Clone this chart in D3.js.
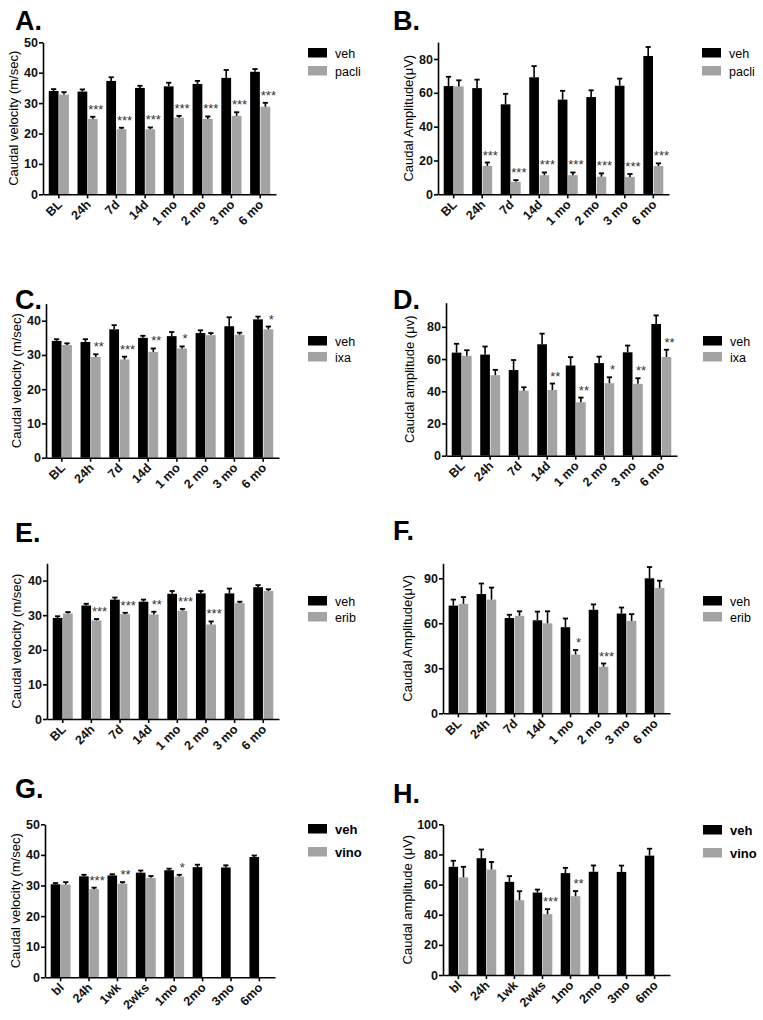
<!DOCTYPE html>
<html><head><meta charset="utf-8">
<script src="https://cdn.jsdelivr.net/npm/d3@7"></script>
<style>body{margin:0;background:#fff} svg{display:block}</style>
</head><body>
<svg id="chart" width="763" height="1020"></svg>
<script>
// ---------- DATA ----------
const groupsMain = ["BL","24h","7d","14d","1 mo","2 mo","3 mo","6 mo"];
const groupsVino = ["bl","24h","1wk","2wks","1mo","2mo","3mo","6mo"];

const ticksVel50 = [0,10,20,30,40,50];
const ticksVel40 = [0,10,20,30,40];
const ticksAmp80 = [0,20,40,60,80];
const ticksAmp90 = [0,30,60,90];
const ticksAmp100 = [0,20,40,60,80,100];

// A: velocity, paclitaxel
const vehVelA = [34.0,33.8,37.3,35.0,35.5,36.3,38.3,40.3];
const vehVelAErr = [0.6,0.7,1.2,0.7,1.2,1.0,2.6,0.9];
const pacliVel = [32.8,24.8,21.4,21.4,25.2,24.8,25.8,28.8];
const pacliVelErr = [0.8,0.7,0.5,0.6,0.6,0.8,1.2,1.3];
const pacliVelSig = ["","***","***","***","***","***","***","***"];

// B: amplitude, paclitaxel
const vehAmpB = [64.0,62.8,53.2,69.2,56.0,57.5,64.2,81.8];
const vehAmpBErr = [5.5,5.0,6.2,6.6,5.2,4.0,4.2,5.3];
const pacliAmp = [63.8,16.8,7.4,11.3,11.3,10.4,10.3,16.7];
const pacliAmpErr = [3.6,2.0,1.0,1.6,1.6,2.0,1.7,1.6];
const pacliAmpSig = ["","***","***","***","***","***","***","***"];

// C: velocity, ixabepilone
const vehVelC = [34.1,33.8,37.5,35.0,35.5,36.4,38.4,40.4];
const vehVelCErr = [0.5,0.8,1.2,0.6,1.2,0.8,2.6,0.8];
const ixaVel = [32.9,29.4,28.7,30.9,31.9,35.8,35.9,37.5];
const ixaVelErr = [0.5,0.8,0.8,1.0,0.6,0.6,0.6,0.8];
const ixaVelSig = ["","**","***","**","*","","","*"];

// D: amplitude, ixabepilone
const vehAmpD = [64.0,62.8,53.2,69.2,56.0,57.5,64.2,81.8];
const vehAmpDErr = [5.5,5.0,6.2,6.6,5.2,4.0,4.2,5.3];
const ixaAmp = [62.0,50.0,40.4,40.8,33.2,45.0,44.6,61.3];
const ixaAmpErr = [3.5,3.3,2.1,4.0,2.9,3.7,3.5,4.5];
const ixaAmpSig = ["","","","**","**","*","**","**"];

// E: velocity, eribulin
const vehVelE = [29.2,32.8,34.5,33.9,36.2,36.3,36.3,38.1];
const vehVelEErr = [0.5,0.5,0.6,0.6,0.8,0.7,1.4,0.6];
const eribVel = [30.5,28.5,30.3,30.2,31.3,27.3,33.5,37.0];
const eribVelErr = [0.4,0.4,0.4,0.8,0.5,0.9,0.4,0.5];
const eribVelSig = ["","***","***","**","***","***","",""];

// F: amplitude, eribulin
const vehAmpF = [71.8,79.5,63.5,62.0,57.4,69.0,66.5,90.0];
const vehAmpFErr = [4.0,7.0,2.2,5.8,5.8,3.6,4.0,7.5];
const eribAmp = [73.0,75.8,65.0,60.0,39.2,31.0,61.6,83.6];
const eribAmpErr = [4.5,8.0,3.0,8.0,3.0,2.2,4.5,4.8];
const eribAmpSig = ["","","","","*","***","",""];

// G: velocity, vincristine
const vehVelG = [30.4,33.0,33.3,34.2,35.0,36.0,35.9,39.3];
const vehVelGErr = [0.4,0.5,0.4,0.7,0.5,0.8,0.7,0.5];
const vinoVel = [30.3,28.8,30.6,32.5,32.9,null,null,null];
const vinoVelErr = [0.8,0.5,0.5,0.6,0.6,null,null,null];
const vinoVelSig = ["","***","**","","*","","",""];

// H: amplitude, vincristine
const vehAmpH = [71.8,77.5,61.8,54.7,67.6,68.5,68.4,79.2];
const vehAmpHErr = [4.0,5.8,3.8,2.0,3.5,4.2,4.2,4.6];
const vinoAmp = [64.8,70.0,49.6,40.4,52.3,null,null,null];
const vinoAmpErr = [7.0,5.0,6.0,3.3,3.4,null,null,null];
const vinoAmpSig = ["","","","***","**","","",""];

// ---------- DRAWING ----------
const FONT = "'Liberation Sans', Arial, Helvetica, sans-serif";
const BLACK = "#000000";
const GRAY = "#a3a3a6";
const svg = d3.select("#chart").style("font-family", FONT);

const panels = [
  {letter:"A.", lx:15, ly:30, cats:groupsMain, veh:vehVelA, vehErr:vehVelAErr, drug:pacliVel, drugErr:pacliVelErr, sig:pacliVelSig,
   drugName:"pacli", ytitle:"Caudal velocity (m/sec)", ticks:ticksVel50, max:50,
   x0:43, x1:276, y0:194.3, y1:42.3, tx:18, legX:308, legY:48, legGap:18, boldLeg:false},
  {letter:"B.", lx:393, ly:30, cats:groupsMain, veh:vehAmpB, vehErr:vehAmpBErr, drug:pacliAmp, drugErr:pacliAmpErr, sig:pacliAmpSig,
   drugName:"pacli", ytitle:"Caudal Amplitude(\u03BCV)", ticks:ticksAmp80, max:90,
   x0:438, x1:669, y0:194.3, y1:42.1, tx:413, legX:702, legY:48, legGap:18, boldLeg:false},
  {letter:"C.", lx:15, ly:309, cats:groupsMain, veh:vehVelC, vehErr:vehVelCErr, drug:ixaVel, drugErr:ixaVelErr, sig:ixaVelSig,
   drugName:"ixa", ytitle:"Caudal velocity (m/sec)", ticks:ticksVel40, max:45,
   x0:46, x1:279, y0:457.7, y1:303.6, tx:21, legX:308, legY:336, legGap:16, boldLeg:false},
  {letter:"D.", lx:393, ly:309, cats:groupsMain, veh:vehAmpD, vehErr:vehAmpDErr, drug:ixaAmp, drugErr:ixaAmpErr, sig:ixaAmpSig,
   drugName:"ixa", ytitle:"Caudal amplitude (\u03BCv)", ticks:ticksAmp80, max:95,
   x0:446, x1:677, y0:455.7, y1:302.7, tx:414, legX:703, legY:336, legGap:16, boldLeg:false},
  {letter:"E.", lx:15, ly:542, cats:groupsMain, veh:vehVelE, vehErr:vehVelEErr, drug:eribVel, drugErr:eribVelErr, sig:eribVelSig,
   drugName:"erib", ytitle:"Caudal velocity (m/sec)", ticks:ticksVel40, max:45,
   x0:47, x1:279, y0:719, y1:563.3, tx:21, legX:308, legY:596, legGap:16, boldLeg:false},
  {letter:"F.", lx:393, ly:540, cats:groupsMain, veh:vehAmpF, vehErr:vehAmpFErr, drug:eribAmp, drugErr:eribAmpErr, sig:eribAmpSig,
   drugName:"erib", ytitle:"Caudal Amplitude(\u03BCV)", ticks:ticksAmp90, max:100,
   x0:443, x1:670, y0:713.3, y1:563.3, tx:412, legX:703, legY:596, legGap:16, boldLeg:false},
  {letter:"G.", lx:15, ly:798, cats:groupsVino, veh:vehVelG, vehErr:vehVelGErr, drug:vinoVel, drugErr:vinoVelErr, sig:vinoVelSig,
   drugName:"vino", ytitle:"Caudal velocity (m/sec)", ticks:ticksVel50, max:50,
   x0:45, x1:275, y0:977.3, y1:824.3, tx:20, legX:308, legY:824, legGap:23, boldLeg:true},
  {letter:"H.", lx:393, ly:803, cats:groupsVino, veh:vehAmpH, vehErr:vehAmpHErr, drug:vinoAmp, drugErr:vinoAmpErr, sig:vinoAmpSig,
   drugName:"vino", ytitle:"Caudal amplitude (\u03BCV)", ticks:ticksAmp100, max:100,
   x0:443, x1:670, y0:975, y1:824.3, tx:412, legX:703, legY:825, legGap:23, boldLeg:true}
];

panels.forEach(p => {
  const g = svg.append("g");
  const x = d3.scaleBand().domain(p.cats).range([p.x0, p.x1]).paddingInner(0.3).paddingOuter(0.2);
  const xs = d3.scaleBand().domain([0,1]).range([0, x.bandwidth()]).paddingInner(0.06);
  const y = d3.scaleLinear().domain([0, p.max]).range([p.y0, p.y1]);

  // panel letter
  g.append("text").attr("x", p.lx).attr("y", p.ly).text(p.letter)
    .attr("font-size", 27).attr("font-weight", "bold").attr("fill", "#000");

  const series = [
    {vals:p.veh, errs:p.vehErr, color:BLACK, sig:null},
    {vals:p.drug, errs:p.drugErr, color:GRAY, sig:p.sig}
  ];
  series.forEach((s, si) => {
    const rows = p.cats.map((c,i) => ({c, v:s.vals[i], e:s.errs[i], sig: s.sig ? s.sig[i] : ""}))
      .filter(d => d.v != null);
    // bars
    g.selectAll(null).data(rows).join("rect")
      .attr("x", d => x(d.c) + xs(si))
      .attr("y", d => y(d.v))
      .attr("width", xs.bandwidth())
      .attr("height", d => y(0) - y(d.v))
      .attr("fill", s.color);
    // error bars (upper only)
    const cx = d => x(d.c) + xs(si) + xs.bandwidth()/2;
    g.selectAll(null).data(rows).join("line")
      .attr("x1", cx).attr("x2", cx)
      .attr("y1", d => y(d.v)).attr("y2", d => y(d.v + d.e))
      .attr("stroke", "#000").attr("stroke-width", 1.6);
    g.selectAll(null).data(rows).join("line")
      .attr("x1", d => cx(d) - 2.6).attr("x2", d => cx(d) + 2.6)
      .attr("y1", d => y(d.v + d.e)).attr("y2", d => y(d.v + d.e))
      .attr("stroke", "#000").attr("stroke-width", 1.8);
    // significance stars
    g.selectAll(null).data(rows.filter(d => d.sig)).join("text")
      .attr("x", d => cx(d) + 3)
      .attr("y", d => y(d.v + d.e) - 3)
      .attr("text-anchor", "middle")
      .attr("font-size", 13)
      .attr("fill", "#333")
      .text(d => d.sig);
  });

  // y axis
  const ya = g.append("g").attr("transform", `translate(${p.x0},0)`)
    .call(d3.axisLeft(y).tickValues(p.ticks).tickSize(4).tickSizeOuter(0).tickPadding(1));
  ya.select(".domain").attr("stroke", "#000").attr("stroke-width", 1.6);
  ya.selectAll(".tick line").attr("stroke", "#000").attr("stroke-width", 1.6);
  ya.selectAll(".tick text").attr("font-family", FONT).attr("font-size", 12.5)
    .attr("font-weight", "bold").attr("fill", "#111");

  // x axis
  const xa = g.append("g").attr("transform", `translate(0,${p.y0})`)
    .call(d3.axisBottom(x).tickSize(4).tickSizeOuter(0).tickFormat(""));
  xa.select(".domain").attr("stroke", "#000").attr("stroke-width", 1.6);
  xa.selectAll(".tick line").attr("stroke", "#000").attr("stroke-width", 1.6);
  g.selectAll(null).data(p.cats).join("text")
    .attr("transform", d => `translate(${x(d) + x.bandwidth()/2 + 4},${p.y0 + 11}) rotate(-45)`)
    .attr("text-anchor", "end")
    .attr("font-size", 12.5).attr("font-weight", "bold").attr("fill", "#111")
    .text(d => d);

  // y title
  g.append("text")
    .attr("transform", `translate(${p.tx},${(p.y0 + p.y1)/2}) rotate(-90)`)
    .attr("text-anchor", "middle")
    .attr("font-size", 13).attr("fill", "#000")
    .text(p.ytitle);

  // legend
  const leg = [{name:"veh", color:BLACK}, {name:p.drugName, color:GRAY}];
  leg.forEach((l, i) => {
    g.append("rect").attr("x", p.legX).attr("y", p.legY + i*p.legGap)
      .attr("width", 19).attr("height", 9.5).attr("fill", l.color);
    g.append("text").attr("x", p.legX + 27).attr("y", p.legY + i*p.legGap + 9.5)
      .attr("font-size", p.boldLeg ? 13 : 12.5).attr("font-weight", p.boldLeg ? "bold" : "normal")
      .attr("fill", "#000").text(l.name);
  });
});
</script></body></html>
